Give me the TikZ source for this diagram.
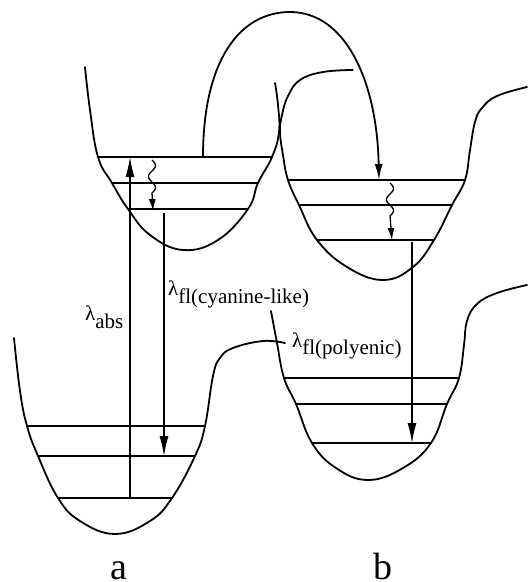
\documentclass[tikz,border=0pt]{standalone}
\usepackage{fontspec}
\setmainfont{Liberation Serif}
\newfontfamily\lblserif{Liberation Serif}
\usetikzlibrary{arrows.meta}
\begin{document}
\begin{tikzpicture}[x=1pt,y=-1pt,
  curve/.style={line width=1.8pt, line join=round, line cap=round},
  toplevel/.style={line width=2.2pt},
  sublevel/.style={line width=1.6pt},
  trans/.style={line width=1.3pt, -{Latex[length=20pt,width=9pt]}},
  relax/.style={line width=1.3pt, -{Latex[length=12pt,width=7pt]}},
  arcarrow/.style={line width=1.8pt, -{Latex[length=16pt,width=8pt]}},
  lbl/.style={inner sep=0pt, anchor=base west, font=\lblserif\fontsize{21}{24}\selectfont},
  panel/.style={inner sep=0pt, anchor=base, text depth=0pt, font=\lblserif\fontsize{38}{40}\selectfont}]
\useasboundingbox (0,0) rectangle (528,582);

% ---- potential curves ----
% a excited
\draw[curve] plot[smooth, tension=0.7] coordinates {(85,67) (90,110) (98,157) (112,183) (128,209) (150,235) (183,250) (218,240) (248,209) (258,183) (272,157) (279,132) (278,105) (275,83)};
% b excited
\draw[curve] plot[smooth, tension=0.7] coordinates {(353,70) (323,72) (300,80) (288,96) (282,115) (280,132) (283,155) (288,180) (299,205) (317,240) (347,267) (383,280) (413,267) (434,240) (452,205) (465,180) (470,150) (475,122) (482,108) (497,96) (527,87)};
% a ground
\draw[curve] plot[smooth, tension=0.7] coordinates {(14,338) (20,391) (27,426) (38,456) (58,498) (80,521) (115,534) (150,521) (172,498) (195,456) (205,426) (213,376) (220,358) (233,348) (263,341) (285,343)};
% b ground
\draw[curve] plot[smooth, tension=0.7] coordinates {(271,311) (277,343) (284,378) (296,404) (312,443) (336,468) (368,480) (403,468) (431,443) (447,404) (459,378) (464,345) (467,321) (477,304) (497,293) (527,285)};

% ---- vibrational levels ----
\coordinate (aeL1) at (98,157);  \coordinate (aeR1) at (272,157);
\coordinate (aeL2) at (112,183); \coordinate (aeR2) at (258,183);
\coordinate (aeL3) at (128,209); \coordinate (aeR3) at (248,209);
\coordinate (beL1) at (288,180); \coordinate (beR1) at (465,180);
\coordinate (beL2) at (299,205); \coordinate (beR2) at (452,205);
\coordinate (beL3) at (317,240); \coordinate (beR3) at (434,240);
\coordinate (agL1) at (27,426);  \coordinate (agR1) at (205,426);
\coordinate (agL2) at (38,456);  \coordinate (agR2) at (195,456);
\coordinate (agL3) at (58,498);  \coordinate (agR3) at (172,498);
\coordinate (bgL1) at (284,378); \coordinate (bgR1) at (459,378);
\coordinate (bgL2) at (296,404); \coordinate (bgR2) at (447,404);
\coordinate (bgL3) at (312,443); \coordinate (bgR3) at (431,443);

\draw[toplevel] (aeL1) -- (aeR1);
\draw[sublevel] (aeL2) -- (aeR2);
\draw[sublevel] (aeL3) -- (aeR3);
\draw[toplevel] (beL1) -- (beR1);
\draw[sublevel] (beL2) -- (beR2);
\draw[sublevel] (beL3) -- (beR3);
\draw[toplevel] (agL1) -- (agR1);
\draw[sublevel] (agL2) -- (agR2);
\draw[sublevel] (agL3) -- (agR3);
\draw[toplevel] (bgL1) -- (bgR1);
\draw[sublevel] (bgL2) -- (bgR2);
\draw[sublevel] (bgL3) -- (bgR3);

% ---- transitions ----
\coordinate (absS) at (130,498); \coordinate (absE) at (130,157);
\coordinate (cyS) at (164,213);  \coordinate (cyE) at (164,456);
\coordinate (poS) at (412,242);  \coordinate (poE) at (412,443);
\coordinate (arcS) at (203,157); \coordinate (arcE) at (379,180);
\coordinate (waE) at (153,211);  \coordinate (wbE) at (392,240);

\draw[trans] (absS) -- (absE);
\draw[trans] (cyS) -- (cyE);
\draw[trans] (poS) -- (poE);
\draw[arcarrow] (arcS) .. controls (203,60) and (240,12) .. (290,12)
  .. controls (345,12) and (377,80) .. (arcE);
\draw[relax] plot[domain=0:1.5, samples=40, smooth] ({152+3.5*sin(\x*360)},{160+\x*22}) -- (waE);
\draw[relax] plot[domain=0:1.5, samples=40, smooth] ({390+3.5*sin(\x*360)},{183+\x*22}) -- (wbE);

% ---- labels ----
\node[lbl] (labs) at (85,320) {λ\raisebox{-8pt}{abs}};
\node[lbl] (lcy) at (168,295) {λ\raisebox{-8pt}{f\kern0pt l(cyanine-like)}};
\node[lbl] (lpo) at (292,347) {λ\raisebox{-7pt}{f\kern0pt l(polyenic)}};
\node[panel] (pa) at (119,579) {a};
\node[panel] (pb) at (383,579) {b};
\end{tikzpicture}
\end{document}
